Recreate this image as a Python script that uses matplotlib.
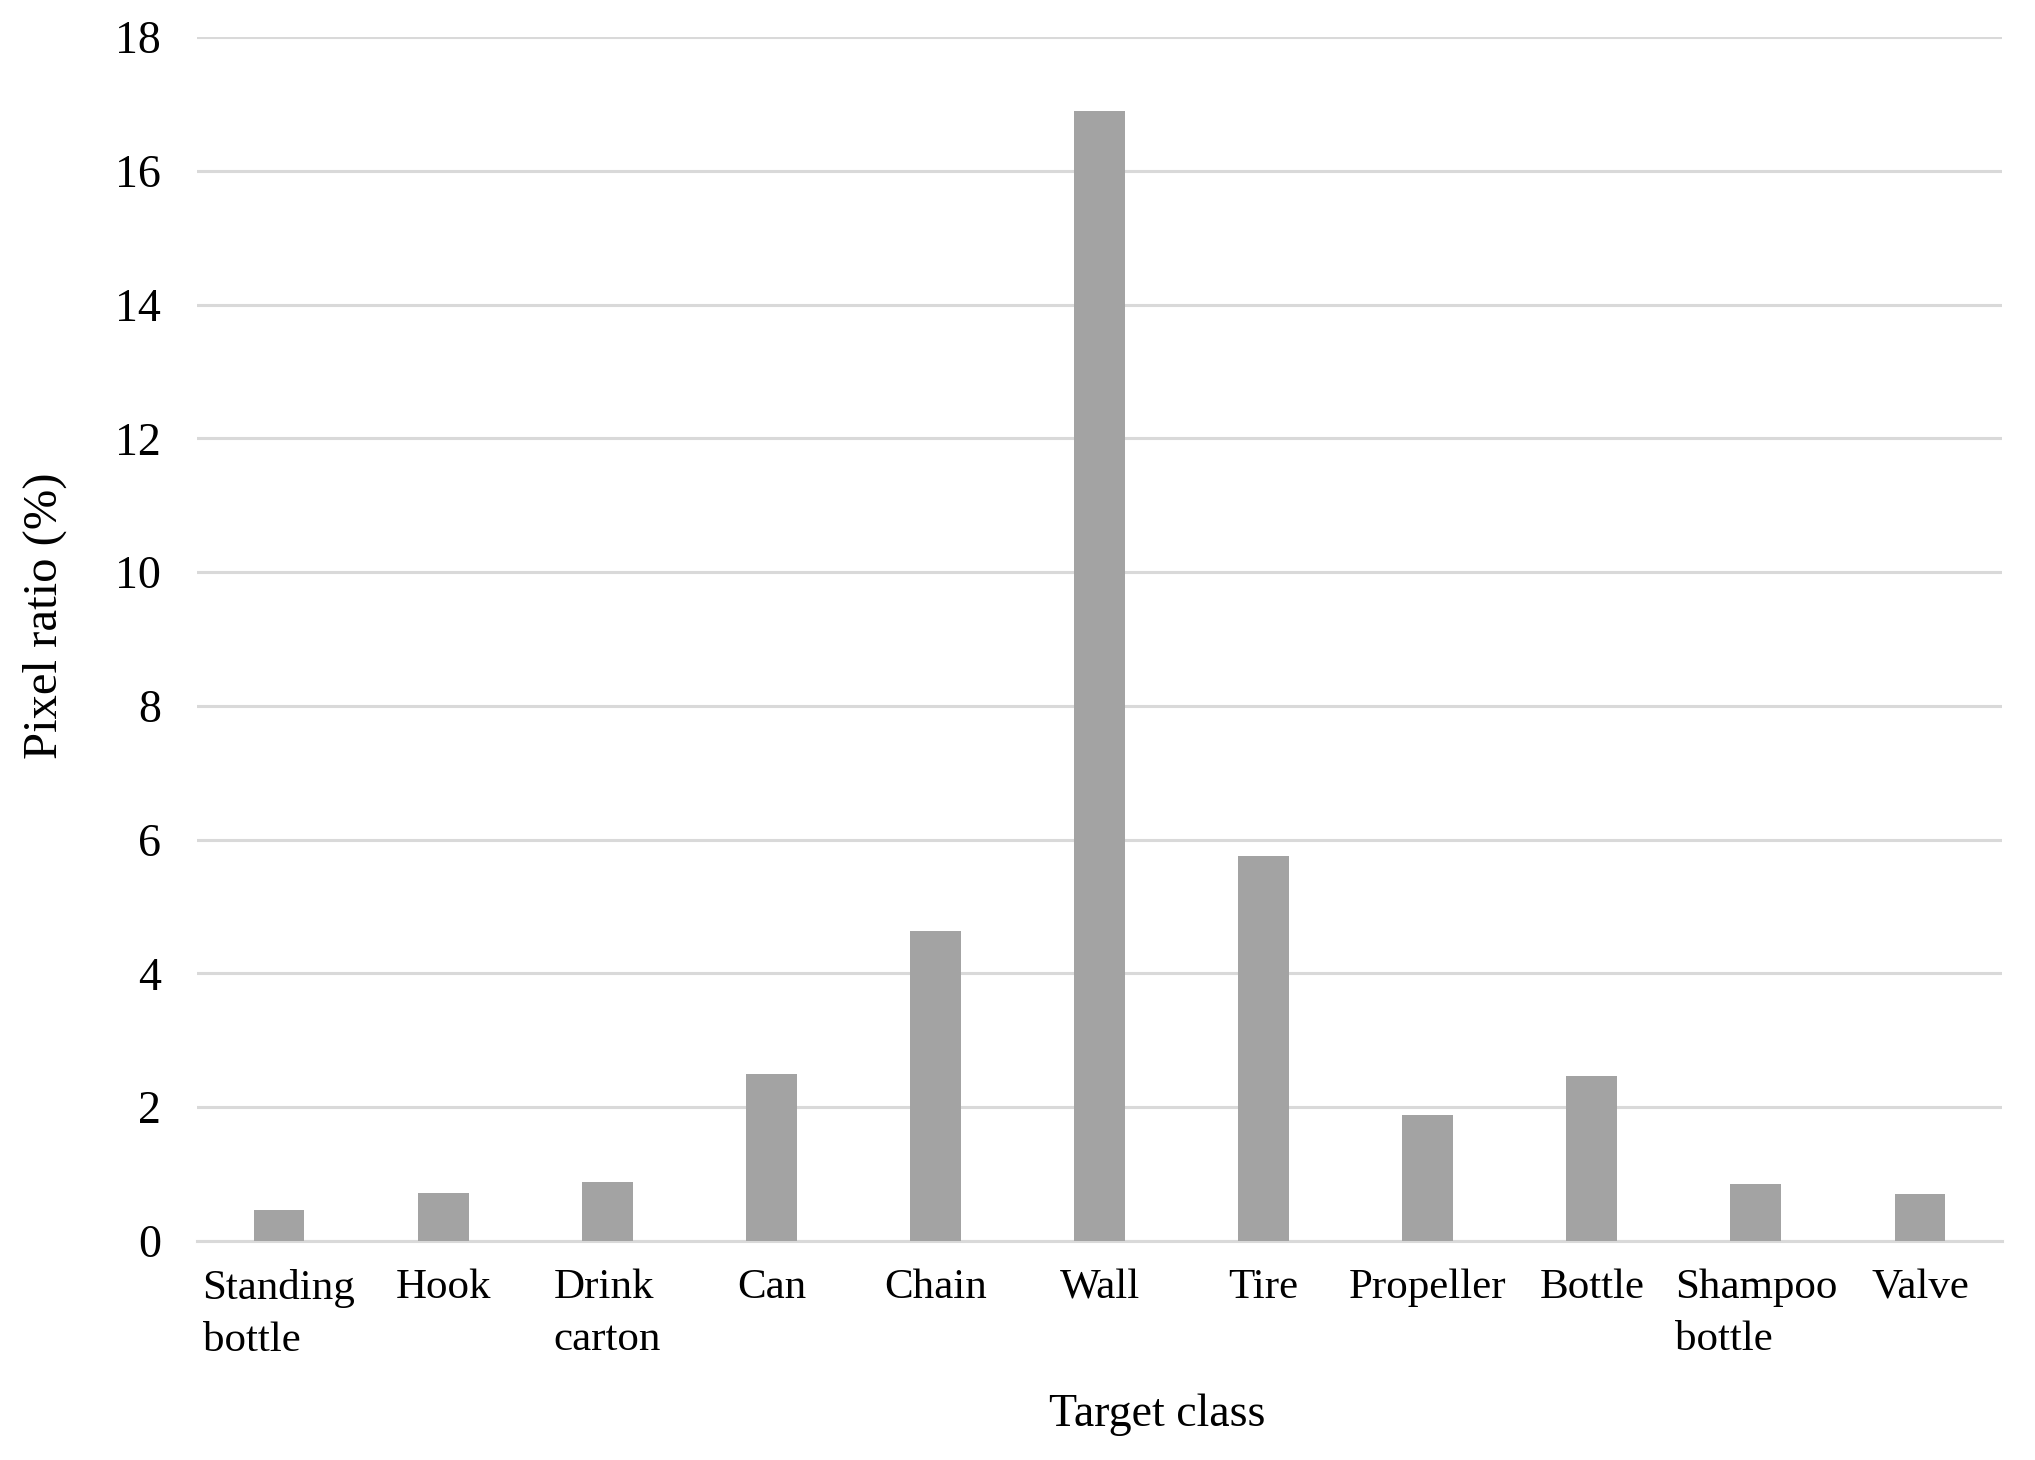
import numpy as np
from matplotlib import pyplot as plt

classes = ["Standing\nbottle", "Hook", "Drink\ncarton", "Can", "Chain", "Wall",
           "Tire", "Propeller", "Bottle", "Shampoo\nbottle", "Valve"]
pixel_ratio = [0.46, 0.72, 0.88, 2.5, 4.63, 16.9, 5.76, 1.89, 2.46, 0.85, 0.71]
y_ticks = [0, 2, 4, 6, 8, 10, 12, 14, 16, 18]

plt.rcParams['font.family'] = ['Liberation Serif', 'DejaVu Serif']

fig = plt.figure(figsize=(20.35, 14.6), dpi=100)
ax = fig.add_axes([0.0968, 0.150, 0.887, 0.8247])

x = np.arange(len(classes))
ax.bar(x, pixel_ratio, width=0.31, color='#a3a3a3', zorder=3)

ax.set_xlim(-0.5, len(classes) - 0.5)
ax.set_ylim(0, 18)
ax.set_yticks(y_ticks)
ax.yaxis.grid(True, color='#d9d9d9', linewidth=2.2, zorder=0)
for s in ['top', 'right', 'left']:
       ax.spines[s].set_visible(False)
ax.spines['bottom'].set_color('#d9d9d9')
ax.spines['bottom'].set_linewidth(2.2)

ax.set_xticks(x)
ax.set_xticklabels(classes, multialignment='left', linespacing=1.45)
ax.tick_params(axis='both', length=0, colors='black')
ax.tick_params(axis='x', pad=20, labelsize=31)
ax.tick_params(axis='y', pad=26, labelsize=33)

ax.set_xlabel("Target class", fontsize=33)
ax.xaxis.set_label_coords(0.532, -0.127)
ax.set_ylabel("Pixel ratio (%)", fontsize=35)
ax.yaxis.set_label_coords(-0.072, 0.519)

plt.savefig("out.png", dpi=100)
